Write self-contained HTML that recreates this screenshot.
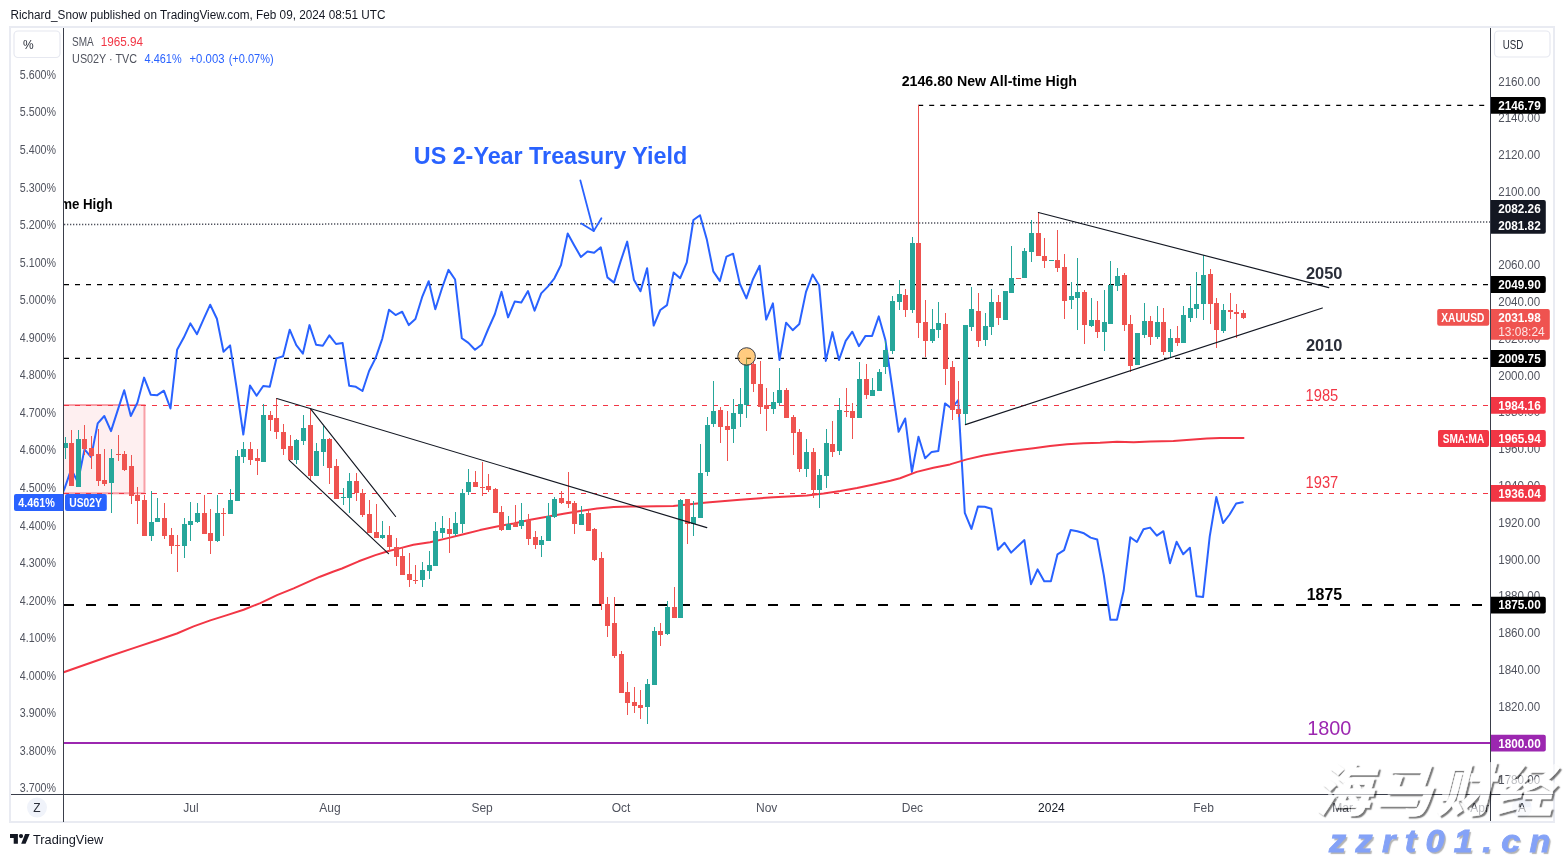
<!DOCTYPE html>
<html lang="en"><head><meta charset="utf-8"><title>XAUUSD chart</title>
<style>
html,body{margin:0;padding:0;background:#fff;}
body{width:1564px;height:857px;position:relative;overflow:hidden;font-family:"Liberation Sans",sans-serif;}
svg{position:absolute;left:0;top:0;}
svg text{font-family:"Liberation Sans",sans-serif;}
.wm1{position:absolute;left:1314px;top:753px;width:260px;white-space:nowrap;font-family:"Liberation Sans","Noto Sans CJK SC",sans-serif;font-weight:900;font-style:italic;font-size:57px;line-height:76px;letter-spacing:3.5px;color:#fff;-webkit-text-stroke:0.5px #fff;text-shadow:2px 2px 1.2px rgba(0,0,0,.85);opacity:.62;}
.wm2{position:absolute;left:1329px;top:823px;white-space:nowrap;font-family:"Liberation Sans",sans-serif;font-weight:bold;font-style:italic;font-size:30.5px;line-height:36px;letter-spacing:8.4px;color:#84a2f7;-webkit-text-stroke:0.8px #84a2f7;text-shadow:1.5px 1.5px 1px rgba(0,0,0,.3);transform:scaleX(1.12);transform-origin:left center;}
</style></head><body>
<svg width="1564" height="857" viewBox="0 0 1564 857">
<defs><clipPath id="plot"><rect x="64" y="28" width="1426" height="766"/></clipPath></defs>
<rect x="0" y="0" width="1564" height="857" fill="#fff"/>

<rect x="10" y="27" width="1544" height="795" fill="#fff" stroke="#e9ebf2" stroke-width="2"/>
<g clip-path="url(#plot)">
<rect x="60" y="405" width="84.5" height="88.3" fill="rgba(242,54,69,0.08)" stroke="rgba(242,54,69,0.45)" stroke-width="2"/>
<line x1="64" y1="224.6" x2="1490" y2="222" stroke="#50535e" stroke-width="1.5" stroke-dasharray="1.3 1.7"/>
<line x1="918.2" y1="105.4" x2="1490" y2="105.4" stroke="#000" stroke-width="1.25" stroke-dasharray="5 6" />
<line x1="64" y1="284.5" x2="1490" y2="284.5" stroke="#000" stroke-width="1.25" stroke-dasharray="5 6" />
<line x1="64" y1="358.4" x2="1490" y2="358.4" stroke="#000" stroke-width="1.25" stroke-dasharray="5 6" />
<line x1="64" y1="405.5" x2="1490" y2="405.5" stroke="#f23645" stroke-width="1" stroke-dasharray="5 6" />
<line x1="64" y1="493.5" x2="1490" y2="493.5" stroke="#f23645" stroke-width="1" stroke-dasharray="5 6" />
<line x1="64" y1="605" x2="1490" y2="605" stroke="#000" stroke-width="2.2" stroke-dasharray="10 12" />
<line x1="64" y1="743" x2="1490" y2="743" stroke="#9c27b0" stroke-width="2.2" />
<polyline points="58.0,505.0 64.6,488.3 71.2,469.3 77.9,482.2 84.5,449.4 91.1,457.1 97.7,423.4 104.3,416.0 111.0,431.1 117.6,410.6 124.2,390.2 130.8,416.0 137.4,402.7 144.1,377.6 150.7,394.7 157.3,395.2 163.9,390.7 170.5,408.5 177.1,349.8 183.8,337.6 190.4,323.4 197.0,334.2 203.6,319.2 210.2,304.7 216.9,318.7 223.5,351.8 230.1,345.4 236.7,388.5 243.3,434.6 250.0,385.5 256.6,395.7 263.2,386.0 269.8,386.8 276.4,358.4 283.1,356.3 289.7,329.7 296.3,345.1 302.9,353.6 309.5,325.1 316.1,344.8 322.8,345.7 329.4,335.3 336.0,344.0 342.6,343.0 349.2,385.8 355.9,386.8 362.5,391.0 369.1,371.0 375.7,357.9 382.3,338.6 389.0,309.7 395.6,315.1 402.2,311.7 408.8,325.1 415.4,319.0 422.1,297.2 428.7,281.2 435.3,309.2 441.9,288.5 448.5,269.9 455.1,279.5 461.8,338.2 468.4,342.9 475.0,349.8 481.6,344.8 488.2,329.0 494.9,314.0 501.5,291.8 508.1,317.4 514.7,301.6 521.3,302.6 528.0,291.1 534.6,310.7 541.2,293.4 547.8,286.6 554.4,278.3 561.0,265.0 567.7,233.4 574.3,245.4 580.9,257.0 587.5,251.4 594.1,252.8 600.8,247.3 607.4,277.4 614.0,282.6 620.6,261.4 627.2,241.6 633.9,279.7 640.5,291.3 647.1,268.2 653.7,325.6 660.3,310.0 667.0,305.1 673.6,272.6 680.2,278.2 686.8,262.4 693.4,220.0 700.0,215.2 706.7,238.9 713.3,271.4 719.9,281.1 726.5,256.6 733.1,253.7 739.8,283.6 746.4,298.4 753.0,279.2 759.6,265.7 766.2,319.6 772.9,303.4 779.5,360.0 786.1,322.7 792.7,330.2 799.3,324.0 806.0,291.9 812.6,274.5 819.2,285.5 825.8,360.9 832.4,332.1 839.0,360.0 845.7,340.8 852.3,331.7 858.9,346.2 865.5,335.9 872.1,335.9 878.8,316.4 885.4,340.1 892.0,386.0 898.6,431.8 905.2,418.5 911.9,471.9 918.5,436.8 925.1,458.2 931.7,451.9 938.3,451.0 945.0,403.4 951.6,408.5 958.2,400.0 964.8,512.9 971.4,528.9 978.0,506.4 984.7,506.8 991.3,508.7 997.9,549.7 1004.5,542.8 1011.1,552.6 1017.8,546.2 1024.4,540.1 1031.0,584.2 1037.6,569.4 1044.2,581.3 1050.9,581.3 1057.5,554.3 1064.1,550.1 1070.7,529.9 1077.3,531.2 1084.0,533.3 1090.6,537.6 1097.2,539.5 1103.8,575.1 1110.4,619.8 1117.0,619.8 1123.7,590.5 1130.3,537.2 1136.9,542.0 1143.5,529.3 1150.1,527.6 1156.8,535.7 1163.4,531.2 1170.0,563.2 1176.6,541.8 1183.2,554.3 1189.9,547.8 1196.5,596.3 1203.1,596.9 1209.7,536.6 1216.3,497.1 1223.0,523.1 1229.6,514.5 1236.2,503.5 1242.8,502.3" fill="none" stroke="#2962ff" stroke-width="2" stroke-linejoin="round" stroke-linecap="round"/>
<polyline points="58.0,674.2 63.7,672.2 85.0,664.7 110.0,656.0 135.0,647.6 160.2,639.3 176.9,633.5 193.6,626.4 210.3,620.4 227.0,615.1 243.6,609.7 260.3,603.1 277.0,595.1 293.7,588.4 310.4,580.9 320.0,576.7 333.6,571.5 342.0,568.5 358.7,561.3 375.4,555.1 388.7,551.0 400.4,548.1 413.4,544.8 430.0,542.3 446.8,538.4 463.5,534.3 480.0,530.1 496.9,526.4 513.6,523.4 530.3,519.7 547.0,516.7 563.6,513.7 580.3,510.9 597.0,508.4 613.7,507.1 630.4,506.4 640.0,506.5 673.4,505.9 690.0,504.2 706.8,502.5 740.0,499.7 773.6,497.2 807.0,495.5 823.6,493.4 840.3,490.9 857.0,488.0 873.7,484.5 890.4,480.8 900.0,478.2 916.7,471.9 933.4,467.7 950.0,464.4 966.8,459.4 983.5,455.5 1000.0,452.7 1016.9,450.2 1033.6,448.2 1050.0,446.0 1067.0,444.3 1083.6,443.2 1100.0,442.8 1117.0,441.8 1133.7,442.2 1150.4,441.5 1173.4,440.9 1190.0,439.8 1206.8,438.4 1220.0,437.9 1243.5,438.1" fill="none" stroke="#f23645" stroke-width="2" stroke-linejoin="round" stroke-linecap="round"/>
<g shape-rendering="crispEdges">
<rect x="65" y="437" width="1" height="22" fill="#26a69a"/>
<rect x="63" y="443" width="5" height="5" fill="#26a69a"/>
<rect x="71" y="430" width="1" height="56" fill="#ef5350"/>
<rect x="69" y="443" width="5" height="43" fill="#ef5350"/>
<rect x="78" y="430" width="1" height="57" fill="#26a69a"/>
<rect x="76" y="439" width="5" height="48" fill="#26a69a"/>
<rect x="84" y="425" width="1" height="30" fill="#ef5350"/>
<rect x="82" y="439" width="5" height="10" fill="#ef5350"/>
<rect x="91" y="436" width="1" height="33" fill="#ef5350"/>
<rect x="89" y="448" width="5" height="8" fill="#ef5350"/>
<rect x="98" y="429" width="1" height="57" fill="#ef5350"/>
<rect x="96" y="454" width="5" height="27" fill="#ef5350"/>
<rect x="104" y="449" width="1" height="37" fill="#ef5350"/>
<rect x="102" y="480" width="5" height="4" fill="#ef5350"/>
<rect x="111" y="449" width="1" height="64" fill="#26a69a"/>
<rect x="109" y="458" width="5" height="25" fill="#26a69a"/>
<rect x="118" y="435" width="1" height="26" fill="#ef5350"/>
<rect x="116" y="454" width="5" height="1" fill="#ef5350"/>
<rect x="124" y="451" width="1" height="20" fill="#ef5350"/>
<rect x="122" y="454" width="5" height="16" fill="#ef5350"/>
<rect x="131" y="455" width="1" height="49" fill="#ef5350"/>
<rect x="129" y="466" width="5" height="30" fill="#ef5350"/>
<rect x="137" y="487" width="1" height="37" fill="#ef5350"/>
<rect x="135" y="495" width="5" height="6" fill="#ef5350"/>
<rect x="144" y="495" width="1" height="41" fill="#ef5350"/>
<rect x="142" y="500" width="5" height="36" fill="#ef5350"/>
<rect x="151" y="491" width="1" height="50" fill="#26a69a"/>
<rect x="149" y="522" width="5" height="14" fill="#26a69a"/>
<rect x="157" y="498" width="1" height="24" fill="#26a69a"/>
<rect x="155" y="518" width="5" height="4" fill="#26a69a"/>
<rect x="164" y="503" width="1" height="36" fill="#ef5350"/>
<rect x="162" y="518" width="5" height="18" fill="#ef5350"/>
<rect x="171" y="528" width="1" height="26" fill="#ef5350"/>
<rect x="169" y="535" width="5" height="11" fill="#ef5350"/>
<rect x="177" y="535" width="1" height="37" fill="#ef5350"/>
<rect x="175" y="545" width="5" height="1" fill="#ef5350"/>
<rect x="184" y="518" width="1" height="40" fill="#26a69a"/>
<rect x="182" y="524" width="5" height="22" fill="#26a69a"/>
<rect x="190" y="502" width="1" height="39" fill="#26a69a"/>
<rect x="188" y="521" width="5" height="4" fill="#26a69a"/>
<rect x="197" y="503" width="1" height="20" fill="#26a69a"/>
<rect x="195" y="513" width="5" height="9" fill="#26a69a"/>
<rect x="204" y="495" width="1" height="39" fill="#ef5350"/>
<rect x="202" y="513" width="5" height="21" fill="#ef5350"/>
<rect x="210" y="509" width="1" height="45" fill="#ef5350"/>
<rect x="208" y="533" width="5" height="8" fill="#ef5350"/>
<rect x="217" y="495" width="1" height="47" fill="#26a69a"/>
<rect x="215" y="513" width="5" height="28" fill="#26a69a"/>
<rect x="223" y="508" width="1" height="28" fill="#ef5350"/>
<rect x="221" y="513" width="5" height="1" fill="#ef5350"/>
<rect x="230" y="489" width="1" height="25" fill="#26a69a"/>
<rect x="228" y="500" width="5" height="14" fill="#26a69a"/>
<rect x="237" y="450" width="1" height="51" fill="#26a69a"/>
<rect x="235" y="456" width="5" height="45" fill="#26a69a"/>
<rect x="243" y="442" width="1" height="21" fill="#26a69a"/>
<rect x="241" y="449" width="5" height="8" fill="#26a69a"/>
<rect x="250" y="442" width="1" height="23" fill="#ef5350"/>
<rect x="248" y="449" width="5" height="11" fill="#ef5350"/>
<rect x="257" y="449" width="1" height="26" fill="#ef5350"/>
<rect x="255" y="458" width="5" height="3" fill="#ef5350"/>
<rect x="263" y="404" width="1" height="58" fill="#26a69a"/>
<rect x="261" y="415" width="5" height="47" fill="#26a69a"/>
<rect x="270" y="411" width="1" height="20" fill="#ef5350"/>
<rect x="268" y="415" width="5" height="5" fill="#ef5350"/>
<rect x="276" y="398" width="1" height="41" fill="#ef5350"/>
<rect x="274" y="418" width="5" height="14" fill="#ef5350"/>
<rect x="283" y="424" width="1" height="31" fill="#ef5350"/>
<rect x="281" y="432" width="5" height="17" fill="#ef5350"/>
<rect x="290" y="435" width="1" height="25" fill="#ef5350"/>
<rect x="288" y="446" width="5" height="14" fill="#ef5350"/>
<rect x="296" y="439" width="1" height="25" fill="#26a69a"/>
<rect x="294" y="440" width="5" height="20" fill="#26a69a"/>
<rect x="303" y="415" width="1" height="30" fill="#26a69a"/>
<rect x="301" y="428" width="5" height="13" fill="#26a69a"/>
<rect x="310" y="409" width="1" height="71" fill="#ef5350"/>
<rect x="308" y="425" width="5" height="51" fill="#ef5350"/>
<rect x="316" y="443" width="1" height="33" fill="#26a69a"/>
<rect x="314" y="451" width="5" height="25" fill="#26a69a"/>
<rect x="323" y="426" width="1" height="40" fill="#26a69a"/>
<rect x="321" y="439" width="5" height="13" fill="#26a69a"/>
<rect x="329" y="438" width="1" height="46" fill="#ef5350"/>
<rect x="327" y="439" width="5" height="29" fill="#ef5350"/>
<rect x="336" y="459" width="1" height="40" fill="#ef5350"/>
<rect x="334" y="466" width="5" height="33" fill="#ef5350"/>
<rect x="343" y="488" width="1" height="17" fill="#26a69a"/>
<rect x="341" y="497" width="5" height="1" fill="#26a69a"/>
<rect x="349" y="473" width="1" height="40" fill="#26a69a"/>
<rect x="347" y="481" width="5" height="17" fill="#26a69a"/>
<rect x="356" y="473" width="1" height="28" fill="#ef5350"/>
<rect x="354" y="481" width="5" height="12" fill="#ef5350"/>
<rect x="362" y="489" width="1" height="28" fill="#ef5350"/>
<rect x="360" y="493" width="5" height="22" fill="#ef5350"/>
<rect x="369" y="500" width="1" height="33" fill="#ef5350"/>
<rect x="367" y="514" width="5" height="19" fill="#ef5350"/>
<rect x="376" y="504" width="1" height="34" fill="#ef5350"/>
<rect x="374" y="532" width="5" height="6" fill="#ef5350"/>
<rect x="382" y="521" width="1" height="18" fill="#26a69a"/>
<rect x="380" y="535" width="5" height="3" fill="#26a69a"/>
<rect x="389" y="526" width="1" height="26" fill="#ef5350"/>
<rect x="387" y="535" width="5" height="12" fill="#ef5350"/>
<rect x="396" y="538" width="1" height="28" fill="#ef5350"/>
<rect x="394" y="547" width="5" height="10" fill="#ef5350"/>
<rect x="402" y="547" width="1" height="28" fill="#ef5350"/>
<rect x="400" y="556" width="5" height="19" fill="#ef5350"/>
<rect x="409" y="553" width="1" height="34" fill="#ef5350"/>
<rect x="407" y="574" width="5" height="6" fill="#ef5350"/>
<rect x="415" y="565" width="1" height="19" fill="#ef5350"/>
<rect x="413" y="580" width="5" height="1" fill="#ef5350"/>
<rect x="422" y="562" width="1" height="25" fill="#26a69a"/>
<rect x="420" y="570" width="5" height="10" fill="#26a69a"/>
<rect x="429" y="551" width="1" height="28" fill="#26a69a"/>
<rect x="427" y="565" width="5" height="6" fill="#26a69a"/>
<rect x="435" y="522" width="1" height="44" fill="#26a69a"/>
<rect x="433" y="531" width="5" height="35" fill="#26a69a"/>
<rect x="442" y="516" width="1" height="22" fill="#26a69a"/>
<rect x="440" y="528" width="5" height="5" fill="#26a69a"/>
<rect x="449" y="518" width="1" height="35" fill="#ef5350"/>
<rect x="447" y="529" width="5" height="5" fill="#ef5350"/>
<rect x="455" y="512" width="1" height="24" fill="#26a69a"/>
<rect x="453" y="523" width="5" height="11" fill="#26a69a"/>
<rect x="462" y="489" width="1" height="44" fill="#26a69a"/>
<rect x="460" y="493" width="5" height="31" fill="#26a69a"/>
<rect x="468" y="469" width="1" height="26" fill="#26a69a"/>
<rect x="466" y="482" width="5" height="10" fill="#26a69a"/>
<rect x="475" y="471" width="1" height="16" fill="#ef5350"/>
<rect x="473" y="482" width="5" height="5" fill="#ef5350"/>
<rect x="482" y="462" width="1" height="34" fill="#ef5350"/>
<rect x="480" y="487" width="5" height="1" fill="#ef5350"/>
<rect x="488" y="474" width="1" height="18" fill="#ef5350"/>
<rect x="486" y="486" width="5" height="4" fill="#ef5350"/>
<rect x="495" y="488" width="1" height="25" fill="#ef5350"/>
<rect x="493" y="489" width="5" height="24" fill="#ef5350"/>
<rect x="501" y="506" width="1" height="25" fill="#ef5350"/>
<rect x="499" y="512" width="5" height="18" fill="#ef5350"/>
<rect x="508" y="516" width="1" height="14" fill="#26a69a"/>
<rect x="506" y="524" width="5" height="6" fill="#26a69a"/>
<rect x="515" y="505" width="1" height="22" fill="#ef5350"/>
<rect x="513" y="523" width="5" height="4" fill="#ef5350"/>
<rect x="521" y="503" width="1" height="26" fill="#26a69a"/>
<rect x="519" y="520" width="5" height="6" fill="#26a69a"/>
<rect x="528" y="514" width="1" height="31" fill="#ef5350"/>
<rect x="526" y="520" width="5" height="19" fill="#ef5350"/>
<rect x="535" y="531" width="1" height="18" fill="#ef5350"/>
<rect x="533" y="537" width="5" height="8" fill="#ef5350"/>
<rect x="541" y="536" width="1" height="21" fill="#26a69a"/>
<rect x="539" y="540" width="5" height="5" fill="#26a69a"/>
<rect x="548" y="503" width="1" height="38" fill="#26a69a"/>
<rect x="546" y="516" width="5" height="25" fill="#26a69a"/>
<rect x="554" y="497" width="1" height="21" fill="#26a69a"/>
<rect x="552" y="499" width="5" height="18" fill="#26a69a"/>
<rect x="561" y="491" width="1" height="13" fill="#ef5350"/>
<rect x="559" y="498" width="5" height="5" fill="#ef5350"/>
<rect x="568" y="472" width="1" height="36" fill="#ef5350"/>
<rect x="566" y="501" width="5" height="3" fill="#ef5350"/>
<rect x="574" y="501" width="1" height="33" fill="#ef5350"/>
<rect x="572" y="503" width="5" height="21" fill="#ef5350"/>
<rect x="581" y="506" width="1" height="19" fill="#26a69a"/>
<rect x="579" y="514" width="5" height="11" fill="#26a69a"/>
<rect x="588" y="510" width="1" height="21" fill="#ef5350"/>
<rect x="586" y="513" width="5" height="18" fill="#ef5350"/>
<rect x="594" y="528" width="1" height="33" fill="#ef5350"/>
<rect x="592" y="529" width="5" height="31" fill="#ef5350"/>
<rect x="601" y="552" width="1" height="58" fill="#ef5350"/>
<rect x="599" y="558" width="5" height="46" fill="#ef5350"/>
<rect x="607" y="597" width="1" height="40" fill="#ef5350"/>
<rect x="605" y="604" width="5" height="22" fill="#ef5350"/>
<rect x="614" y="597" width="1" height="61" fill="#ef5350"/>
<rect x="612" y="623" width="5" height="33" fill="#ef5350"/>
<rect x="621" y="651" width="1" height="42" fill="#ef5350"/>
<rect x="619" y="654" width="5" height="39" fill="#ef5350"/>
<rect x="627" y="682" width="1" height="33" fill="#ef5350"/>
<rect x="625" y="692" width="5" height="11" fill="#ef5350"/>
<rect x="634" y="687" width="1" height="26" fill="#ef5350"/>
<rect x="632" y="702" width="5" height="4" fill="#ef5350"/>
<rect x="640" y="690" width="1" height="29" fill="#ef5350"/>
<rect x="638" y="705" width="5" height="3" fill="#ef5350"/>
<rect x="647" y="679" width="1" height="45" fill="#26a69a"/>
<rect x="645" y="684" width="5" height="23" fill="#26a69a"/>
<rect x="654" y="627" width="1" height="58" fill="#26a69a"/>
<rect x="652" y="631" width="5" height="54" fill="#26a69a"/>
<rect x="660" y="623" width="1" height="23" fill="#ef5350"/>
<rect x="658" y="631" width="5" height="4" fill="#ef5350"/>
<rect x="667" y="601" width="1" height="34" fill="#26a69a"/>
<rect x="665" y="607" width="5" height="27" fill="#26a69a"/>
<rect x="674" y="587" width="1" height="31" fill="#ef5350"/>
<rect x="672" y="607" width="5" height="11" fill="#ef5350"/>
<rect x="680" y="499" width="1" height="119" fill="#26a69a"/>
<rect x="678" y="500" width="5" height="118" fill="#26a69a"/>
<rect x="687" y="499" width="1" height="45" fill="#ef5350"/>
<rect x="685" y="499" width="5" height="25" fill="#ef5350"/>
<rect x="693" y="501" width="1" height="35" fill="#26a69a"/>
<rect x="691" y="517" width="5" height="7" fill="#26a69a"/>
<rect x="700" y="444" width="1" height="74" fill="#26a69a"/>
<rect x="698" y="473" width="5" height="45" fill="#26a69a"/>
<rect x="707" y="417" width="1" height="59" fill="#26a69a"/>
<rect x="705" y="425" width="5" height="47" fill="#26a69a"/>
<rect x="713" y="381" width="1" height="46" fill="#26a69a"/>
<rect x="711" y="411" width="5" height="13" fill="#26a69a"/>
<rect x="720" y="407" width="1" height="36" fill="#ef5350"/>
<rect x="718" y="410" width="5" height="17" fill="#ef5350"/>
<rect x="727" y="411" width="1" height="50" fill="#ef5350"/>
<rect x="725" y="426" width="5" height="4" fill="#ef5350"/>
<rect x="733" y="399" width="1" height="44" fill="#26a69a"/>
<rect x="731" y="413" width="5" height="16" fill="#26a69a"/>
<rect x="740" y="388" width="1" height="39" fill="#26a69a"/>
<rect x="738" y="404" width="5" height="10" fill="#26a69a"/>
<rect x="746" y="358" width="1" height="60" fill="#26a69a"/>
<rect x="744" y="364" width="5" height="41" fill="#26a69a"/>
<rect x="753" y="362" width="1" height="30" fill="#ef5350"/>
<rect x="751" y="364" width="5" height="20" fill="#ef5350"/>
<rect x="760" y="361" width="1" height="53" fill="#ef5350"/>
<rect x="758" y="384" width="5" height="23" fill="#ef5350"/>
<rect x="766" y="388" width="1" height="43" fill="#ef5350"/>
<rect x="764" y="405" width="5" height="4" fill="#ef5350"/>
<rect x="773" y="392" width="1" height="22" fill="#26a69a"/>
<rect x="771" y="402" width="5" height="7" fill="#26a69a"/>
<rect x="779" y="368" width="1" height="37" fill="#26a69a"/>
<rect x="777" y="390" width="5" height="13" fill="#26a69a"/>
<rect x="786" y="388" width="1" height="30" fill="#ef5350"/>
<rect x="784" y="390" width="5" height="28" fill="#ef5350"/>
<rect x="793" y="415" width="1" height="40" fill="#ef5350"/>
<rect x="791" y="417" width="5" height="16" fill="#ef5350"/>
<rect x="799" y="429" width="1" height="43" fill="#ef5350"/>
<rect x="797" y="432" width="5" height="37" fill="#ef5350"/>
<rect x="806" y="439" width="1" height="38" fill="#26a69a"/>
<rect x="804" y="452" width="5" height="17" fill="#26a69a"/>
<rect x="813" y="448" width="1" height="50" fill="#ef5350"/>
<rect x="811" y="452" width="5" height="38" fill="#ef5350"/>
<rect x="819" y="469" width="1" height="39" fill="#26a69a"/>
<rect x="817" y="475" width="5" height="15" fill="#26a69a"/>
<rect x="826" y="429" width="1" height="59" fill="#26a69a"/>
<rect x="824" y="443" width="5" height="33" fill="#26a69a"/>
<rect x="832" y="421" width="1" height="36" fill="#ef5350"/>
<rect x="830" y="444" width="5" height="8" fill="#ef5350"/>
<rect x="839" y="398" width="1" height="57" fill="#26a69a"/>
<rect x="837" y="410" width="5" height="41" fill="#26a69a"/>
<rect x="846" y="388" width="1" height="29" fill="#ef5350"/>
<rect x="844" y="411" width="5" height="1" fill="#ef5350"/>
<rect x="852" y="403" width="1" height="36" fill="#ef5350"/>
<rect x="850" y="411" width="5" height="7" fill="#ef5350"/>
<rect x="859" y="362" width="1" height="56" fill="#26a69a"/>
<rect x="857" y="379" width="5" height="39" fill="#26a69a"/>
<rect x="866" y="364" width="1" height="35" fill="#ef5350"/>
<rect x="864" y="379" width="5" height="16" fill="#ef5350"/>
<rect x="872" y="378" width="1" height="18" fill="#26a69a"/>
<rect x="870" y="390" width="5" height="6" fill="#26a69a"/>
<rect x="879" y="369" width="1" height="22" fill="#26a69a"/>
<rect x="877" y="372" width="5" height="19" fill="#26a69a"/>
<rect x="885" y="341" width="1" height="33" fill="#26a69a"/>
<rect x="883" y="350" width="5" height="17" fill="#26a69a"/>
<rect x="892" y="296" width="1" height="58" fill="#26a69a"/>
<rect x="890" y="301" width="5" height="50" fill="#26a69a"/>
<rect x="899" y="280" width="1" height="30" fill="#26a69a"/>
<rect x="897" y="294" width="5" height="8" fill="#26a69a"/>
<rect x="905" y="289" width="1" height="28" fill="#ef5350"/>
<rect x="903" y="295" width="5" height="15" fill="#ef5350"/>
<rect x="912" y="237" width="1" height="76" fill="#26a69a"/>
<rect x="910" y="243" width="5" height="67" fill="#26a69a"/>
<rect x="918" y="105" width="1" height="233" fill="#ef5350"/>
<rect x="916" y="243" width="5" height="80" fill="#ef5350"/>
<rect x="925" y="300" width="1" height="57" fill="#ef5350"/>
<rect x="923" y="322" width="5" height="19" fill="#ef5350"/>
<rect x="932" y="309" width="1" height="34" fill="#26a69a"/>
<rect x="930" y="329" width="5" height="12" fill="#26a69a"/>
<rect x="938" y="302" width="1" height="36" fill="#26a69a"/>
<rect x="936" y="323" width="5" height="7" fill="#26a69a"/>
<rect x="945" y="313" width="1" height="72" fill="#ef5350"/>
<rect x="943" y="324" width="5" height="45" fill="#ef5350"/>
<rect x="952" y="361" width="1" height="59" fill="#ef5350"/>
<rect x="950" y="367" width="5" height="43" fill="#ef5350"/>
<rect x="958" y="381" width="1" height="36" fill="#ef5350"/>
<rect x="956" y="409" width="5" height="5" fill="#ef5350"/>
<rect x="965" y="325" width="1" height="100" fill="#26a69a"/>
<rect x="963" y="325" width="5" height="89" fill="#26a69a"/>
<rect x="971" y="287" width="1" height="44" fill="#26a69a"/>
<rect x="969" y="309" width="5" height="18" fill="#26a69a"/>
<rect x="978" y="293" width="1" height="54" fill="#ef5350"/>
<rect x="976" y="311" width="5" height="30" fill="#ef5350"/>
<rect x="985" y="313" width="1" height="33" fill="#26a69a"/>
<rect x="983" y="326" width="5" height="14" fill="#26a69a"/>
<rect x="991" y="289" width="1" height="46" fill="#26a69a"/>
<rect x="989" y="302" width="5" height="25" fill="#26a69a"/>
<rect x="998" y="295" width="1" height="30" fill="#ef5350"/>
<rect x="996" y="302" width="5" height="16" fill="#ef5350"/>
<rect x="1005" y="291" width="1" height="29" fill="#26a69a"/>
<rect x="1003" y="291" width="5" height="29" fill="#26a69a"/>
<rect x="1011" y="246" width="1" height="47" fill="#26a69a"/>
<rect x="1009" y="278" width="5" height="15" fill="#26a69a"/>
<rect x="1018" y="278" width="1" height="1" fill="#ef5350"/>
<rect x="1016" y="278" width="5" height="1" fill="#ef5350"/>
<rect x="1024" y="248" width="1" height="30" fill="#26a69a"/>
<rect x="1022" y="251" width="5" height="27" fill="#26a69a"/>
<rect x="1031" y="220" width="1" height="42" fill="#26a69a"/>
<rect x="1029" y="233" width="5" height="19" fill="#26a69a"/>
<rect x="1038" y="212" width="1" height="44" fill="#ef5350"/>
<rect x="1036" y="233" width="5" height="23" fill="#ef5350"/>
<rect x="1044" y="238" width="1" height="30" fill="#ef5350"/>
<rect x="1042" y="256" width="5" height="5" fill="#ef5350"/>
<rect x="1051" y="260" width="1" height="1" fill="#26a69a"/>
<rect x="1049" y="260" width="5" height="1" fill="#26a69a"/>
<rect x="1057" y="230" width="1" height="42" fill="#ef5350"/>
<rect x="1055" y="260" width="5" height="8" fill="#ef5350"/>
<rect x="1064" y="254" width="1" height="65" fill="#ef5350"/>
<rect x="1062" y="267" width="5" height="34" fill="#ef5350"/>
<rect x="1071" y="282" width="1" height="27" fill="#26a69a"/>
<rect x="1069" y="296" width="5" height="4" fill="#26a69a"/>
<rect x="1077" y="258" width="1" height="72" fill="#26a69a"/>
<rect x="1075" y="292" width="5" height="6" fill="#26a69a"/>
<rect x="1084" y="290" width="1" height="54" fill="#ef5350"/>
<rect x="1082" y="292" width="5" height="33" fill="#ef5350"/>
<rect x="1091" y="298" width="1" height="29" fill="#26a69a"/>
<rect x="1089" y="320" width="5" height="6" fill="#26a69a"/>
<rect x="1097" y="301" width="1" height="37" fill="#ef5350"/>
<rect x="1095" y="320" width="5" height="12" fill="#ef5350"/>
<rect x="1104" y="290" width="1" height="61" fill="#26a69a"/>
<rect x="1102" y="322" width="5" height="10" fill="#26a69a"/>
<rect x="1110" y="261" width="1" height="63" fill="#26a69a"/>
<rect x="1108" y="285" width="5" height="39" fill="#26a69a"/>
<rect x="1117" y="268" width="1" height="23" fill="#26a69a"/>
<rect x="1115" y="276" width="5" height="10" fill="#26a69a"/>
<rect x="1124" y="273" width="1" height="58" fill="#ef5350"/>
<rect x="1122" y="275" width="5" height="50" fill="#ef5350"/>
<rect x="1130" y="315" width="1" height="57" fill="#ef5350"/>
<rect x="1128" y="324" width="5" height="42" fill="#ef5350"/>
<rect x="1137" y="333" width="1" height="32" fill="#26a69a"/>
<rect x="1135" y="333" width="5" height="32" fill="#26a69a"/>
<rect x="1144" y="303" width="1" height="35" fill="#26a69a"/>
<rect x="1142" y="321" width="5" height="14" fill="#26a69a"/>
<rect x="1150" y="316" width="1" height="29" fill="#ef5350"/>
<rect x="1148" y="321" width="5" height="16" fill="#ef5350"/>
<rect x="1157" y="306" width="1" height="33" fill="#26a69a"/>
<rect x="1155" y="322" width="5" height="15" fill="#26a69a"/>
<rect x="1163" y="308" width="1" height="47" fill="#ef5350"/>
<rect x="1161" y="322" width="5" height="30" fill="#ef5350"/>
<rect x="1170" y="329" width="1" height="29" fill="#26a69a"/>
<rect x="1168" y="338" width="5" height="14" fill="#26a69a"/>
<rect x="1177" y="326" width="1" height="20" fill="#ef5350"/>
<rect x="1175" y="338" width="5" height="5" fill="#ef5350"/>
<rect x="1183" y="306" width="1" height="37" fill="#26a69a"/>
<rect x="1181" y="315" width="5" height="28" fill="#26a69a"/>
<rect x="1190" y="286" width="1" height="36" fill="#26a69a"/>
<rect x="1188" y="308" width="5" height="10" fill="#26a69a"/>
<rect x="1196" y="272" width="1" height="46" fill="#26a69a"/>
<rect x="1194" y="304" width="5" height="5" fill="#26a69a"/>
<rect x="1203" y="255" width="1" height="65" fill="#26a69a"/>
<rect x="1201" y="275" width="5" height="29" fill="#26a69a"/>
<rect x="1210" y="269" width="1" height="55" fill="#ef5350"/>
<rect x="1208" y="274" width="5" height="30" fill="#ef5350"/>
<rect x="1216" y="298" width="1" height="50" fill="#ef5350"/>
<rect x="1214" y="303" width="5" height="27" fill="#ef5350"/>
<rect x="1223" y="304" width="1" height="29" fill="#26a69a"/>
<rect x="1221" y="310" width="5" height="21" fill="#26a69a"/>
<rect x="1230" y="293" width="1" height="26" fill="#ef5350"/>
<rect x="1228" y="310" width="5" height="2" fill="#ef5350"/>
<rect x="1236" y="304" width="1" height="34" fill="#ef5350"/>
<rect x="1234" y="312" width="5" height="2" fill="#ef5350"/>
<rect x="1243" y="310" width="1" height="9" fill="#ef5350"/>
<rect x="1241" y="313" width="5" height="5" fill="#ef5350"/>
</g>
<line x1="276.8" y1="398.5" x2="706.8" y2="527.6" stroke="#131722" stroke-width="1.15" stroke-linecap="round"/>
<line x1="310.6" y1="408.8" x2="395.6" y2="516.5" stroke="#131722" stroke-width="1.15" stroke-linecap="round"/>
<line x1="289.3" y1="460.3" x2="388.5" y2="553.7" stroke="#131722" stroke-width="1.15" stroke-linecap="round"/>
<line x1="1038.4" y1="212.5" x2="1328.8" y2="287.6" stroke="#131722" stroke-width="1.15" stroke-linecap="round"/>
<line x1="965.4" y1="424.6" x2="1322.4" y2="308" stroke="#131722" stroke-width="1.15" stroke-linecap="round"/>
<circle cx="746.6" cy="356.5" r="8.8" fill="rgba(255,152,0,0.5)" stroke="#3a3e49" stroke-width="1"/>
<g stroke="#2962ff" stroke-width="1.8" fill="none" stroke-linecap="round" stroke-linejoin="round"><line x1="580.3" y1="180.3" x2="593.7" y2="231"/><polyline points="581.3,223.4 593.7,231.1 601.4,218.2"/></g>
<text x="413.8" y="164.1" font-size="24" fill="#2962ff" font-weight="bold" text-anchor="start" textLength="273.4" lengthAdjust="spacingAndGlyphs" >US 2-Year Treasury Yield</text>
<text x="901.7" y="85.8" font-size="14" fill="#000" font-weight="bold" text-anchor="start" textLength="175.3" lengthAdjust="spacingAndGlyphs" >2146.80 New All-time High</text>
<text x="-53" y="208.8" font-size="14" fill="#000" font-weight="bold" text-anchor="start" textLength="165.5" lengthAdjust="spacingAndGlyphs" >2081.82 Prev All-time High</text>
<text x="1305.9" y="278.9" font-size="16" fill="#2a2e39" font-weight="bold" text-anchor="start" textLength="36.5" lengthAdjust="spacingAndGlyphs" >2050</text>
<text x="1305.9" y="350.5" font-size="16" fill="#2a2e39" font-weight="bold" text-anchor="start" textLength="36.5" lengthAdjust="spacingAndGlyphs" >2010</text>
<text x="1305.6" y="400.5" font-size="16" fill="#f23645" font-weight="normal" text-anchor="start" textLength="32.7" lengthAdjust="spacingAndGlyphs" >1985</text>
<text x="1305.6" y="487.8" font-size="16" fill="#f23645" font-weight="normal" text-anchor="start" textLength="32.7" lengthAdjust="spacingAndGlyphs" >1937</text>
<text x="1306.7" y="600" font-size="16" fill="#000" font-weight="bold" text-anchor="start" textLength="35.4" lengthAdjust="spacingAndGlyphs" >1875</text>
<text x="1307.2" y="734.9" font-size="20" fill="#9c27b0" font-weight="normal" text-anchor="start" textLength="44.2" lengthAdjust="spacingAndGlyphs" >1800</text>
</g>
<g shape-rendering="crispEdges">
<rect x="63" y="28" width="1" height="793.5" fill="#3a3e4a"/>
<rect x="1490" y="28" width="1" height="793" fill="#3a3e4a"/>
<rect x="11" y="794" width="1542" height="1" fill="#3a3e4a"/>
</g>
<text x="56" y="78.9" font-size="12" fill="#50535e" font-weight="normal" text-anchor="end" textLength="36.2" lengthAdjust="spacingAndGlyphs" >5.600%</text>
<text x="56" y="116.4" font-size="12" fill="#50535e" font-weight="normal" text-anchor="end" textLength="36.2" lengthAdjust="spacingAndGlyphs" >5.500%</text>
<text x="56" y="154.0" font-size="12" fill="#50535e" font-weight="normal" text-anchor="end" textLength="36.2" lengthAdjust="spacingAndGlyphs" >5.400%</text>
<text x="56" y="191.5" font-size="12" fill="#50535e" font-weight="normal" text-anchor="end" textLength="36.2" lengthAdjust="spacingAndGlyphs" >5.300%</text>
<text x="56" y="229.1" font-size="12" fill="#50535e" font-weight="normal" text-anchor="end" textLength="36.2" lengthAdjust="spacingAndGlyphs" >5.200%</text>
<text x="56" y="266.7" font-size="12" fill="#50535e" font-weight="normal" text-anchor="end" textLength="36.2" lengthAdjust="spacingAndGlyphs" >5.100%</text>
<text x="56" y="304.2" font-size="12" fill="#50535e" font-weight="normal" text-anchor="end" textLength="36.2" lengthAdjust="spacingAndGlyphs" >5.000%</text>
<text x="56" y="341.8" font-size="12" fill="#50535e" font-weight="normal" text-anchor="end" textLength="36.2" lengthAdjust="spacingAndGlyphs" >4.900%</text>
<text x="56" y="379.3" font-size="12" fill="#50535e" font-weight="normal" text-anchor="end" textLength="36.2" lengthAdjust="spacingAndGlyphs" >4.800%</text>
<text x="56" y="416.9" font-size="12" fill="#50535e" font-weight="normal" text-anchor="end" textLength="36.2" lengthAdjust="spacingAndGlyphs" >4.700%</text>
<text x="56" y="454.4" font-size="12" fill="#50535e" font-weight="normal" text-anchor="end" textLength="36.2" lengthAdjust="spacingAndGlyphs" >4.600%</text>
<text x="56" y="491.9" font-size="12" fill="#50535e" font-weight="normal" text-anchor="end" textLength="36.2" lengthAdjust="spacingAndGlyphs" >4.500%</text>
<text x="56" y="529.5" font-size="12" fill="#50535e" font-weight="normal" text-anchor="end" textLength="36.2" lengthAdjust="spacingAndGlyphs" >4.400%</text>
<text x="56" y="567.0" font-size="12" fill="#50535e" font-weight="normal" text-anchor="end" textLength="36.2" lengthAdjust="spacingAndGlyphs" >4.300%</text>
<text x="56" y="604.6" font-size="12" fill="#50535e" font-weight="normal" text-anchor="end" textLength="36.2" lengthAdjust="spacingAndGlyphs" >4.200%</text>
<text x="56" y="642.1" font-size="12" fill="#50535e" font-weight="normal" text-anchor="end" textLength="36.2" lengthAdjust="spacingAndGlyphs" >4.100%</text>
<text x="56" y="679.7" font-size="12" fill="#50535e" font-weight="normal" text-anchor="end" textLength="36.2" lengthAdjust="spacingAndGlyphs" >4.000%</text>
<text x="56" y="717.2" font-size="12" fill="#50535e" font-weight="normal" text-anchor="end" textLength="36.2" lengthAdjust="spacingAndGlyphs" >3.900%</text>
<text x="56" y="754.8" font-size="12" fill="#50535e" font-weight="normal" text-anchor="end" textLength="36.2" lengthAdjust="spacingAndGlyphs" >3.800%</text>
<text x="56" y="792.3" font-size="12" fill="#50535e" font-weight="normal" text-anchor="end" textLength="36.2" lengthAdjust="spacingAndGlyphs" >3.700%</text>
<text x="1498.2" y="85.5" font-size="12" fill="#50535e" font-weight="normal" text-anchor="start" textLength="42" lengthAdjust="spacingAndGlyphs" >2160.00</text>
<text x="1498.2" y="122.3" font-size="12" fill="#50535e" font-weight="normal" text-anchor="start" textLength="42" lengthAdjust="spacingAndGlyphs" >2140.00</text>
<text x="1498.2" y="159.0" font-size="12" fill="#50535e" font-weight="normal" text-anchor="start" textLength="42" lengthAdjust="spacingAndGlyphs" >2120.00</text>
<text x="1498.2" y="195.8" font-size="12" fill="#50535e" font-weight="normal" text-anchor="start" textLength="42" lengthAdjust="spacingAndGlyphs" >2100.00</text>
<text x="1498.2" y="232.6" font-size="12" fill="#50535e" font-weight="normal" text-anchor="start" textLength="42" lengthAdjust="spacingAndGlyphs" >2080.00</text>
<text x="1498.2" y="269.4" font-size="12" fill="#50535e" font-weight="normal" text-anchor="start" textLength="42" lengthAdjust="spacingAndGlyphs" >2060.00</text>
<text x="1498.2" y="306.1" font-size="12" fill="#50535e" font-weight="normal" text-anchor="start" textLength="42" lengthAdjust="spacingAndGlyphs" >2040.00</text>
<text x="1498.2" y="342.9" font-size="12" fill="#50535e" font-weight="normal" text-anchor="start" textLength="42" lengthAdjust="spacingAndGlyphs" >2020.00</text>
<text x="1498.2" y="379.7" font-size="12" fill="#50535e" font-weight="normal" text-anchor="start" textLength="42" lengthAdjust="spacingAndGlyphs" >2000.00</text>
<text x="1498.2" y="416.4" font-size="12" fill="#50535e" font-weight="normal" text-anchor="start" textLength="42" lengthAdjust="spacingAndGlyphs" >1980.00</text>
<text x="1498.2" y="453.2" font-size="12" fill="#50535e" font-weight="normal" text-anchor="start" textLength="42" lengthAdjust="spacingAndGlyphs" >1960.00</text>
<text x="1498.2" y="490.0" font-size="12" fill="#50535e" font-weight="normal" text-anchor="start" textLength="42" lengthAdjust="spacingAndGlyphs" >1940.00</text>
<text x="1498.2" y="526.7" font-size="12" fill="#50535e" font-weight="normal" text-anchor="start" textLength="42" lengthAdjust="spacingAndGlyphs" >1920.00</text>
<text x="1498.2" y="563.5" font-size="12" fill="#50535e" font-weight="normal" text-anchor="start" textLength="42" lengthAdjust="spacingAndGlyphs" >1900.00</text>
<text x="1498.2" y="600.3" font-size="12" fill="#50535e" font-weight="normal" text-anchor="start" textLength="42" lengthAdjust="spacingAndGlyphs" >1880.00</text>
<text x="1498.2" y="637.1" font-size="12" fill="#50535e" font-weight="normal" text-anchor="start" textLength="42" lengthAdjust="spacingAndGlyphs" >1860.00</text>
<text x="1498.2" y="673.8" font-size="12" fill="#50535e" font-weight="normal" text-anchor="start" textLength="42" lengthAdjust="spacingAndGlyphs" >1840.00</text>
<text x="1498.2" y="710.6" font-size="12" fill="#50535e" font-weight="normal" text-anchor="start" textLength="42" lengthAdjust="spacingAndGlyphs" >1820.00</text>
<text x="1498.2" y="747.4" font-size="12" fill="#50535e" font-weight="normal" text-anchor="start" textLength="42" lengthAdjust="spacingAndGlyphs" >1800.00</text>
<text x="1498.2" y="784.1" font-size="12" fill="#50535e" font-weight="normal" text-anchor="start" textLength="42" lengthAdjust="spacingAndGlyphs" >1780.00</text>
<rect x="14" y="31" width="46" height="26.5" rx="4" fill="#fff" stroke="#e6e8f0" stroke-width="1.2"/>
<text x="23" y="49" font-size="12" fill="#2a2e39" font-weight="normal" text-anchor="start" >%</text>
<rect x="1494.5" y="31" width="55.5" height="26" rx="4" fill="#fff" stroke="#e6e8f0" stroke-width="1.2"/>
<text x="1502.8" y="49" font-size="12" fill="#2a2e39" font-weight="normal" text-anchor="start" textLength="20.6" lengthAdjust="spacingAndGlyphs" >USD</text>
<path d="M1491,96.89999999999999 h52.8 a2,2 0 0 1 2,2 v12.8 a2,2 0 0 1 -2,2 h-52.8 z" fill="#000"/>
<text x="1498.2" y="109.6" font-size="12" fill="#fff" font-weight="bold" text-anchor="start" textLength="42.5" lengthAdjust="spacingAndGlyphs" >2146.79</text>
<path d="M1491,200 h52.8 a2,2 0 0 1 2,2 v29.8 a2,2 0 0 1 -2,2 h-52.8 z" fill="#131722"/>
<text x="1498.2" y="213" font-size="12" fill="#fff" font-weight="bold" text-anchor="start" textLength="42.5" lengthAdjust="spacingAndGlyphs" >2082.26</text>
<text x="1498.2" y="229.8" font-size="12" fill="#fff" font-weight="bold" text-anchor="start" textLength="42.5" lengthAdjust="spacingAndGlyphs" >2081.82</text>
<path d="M1491,276.1 h52.8 a2,2 0 0 1 2,2 v12.8 a2,2 0 0 1 -2,2 h-52.8 z" fill="#000"/>
<text x="1498.2" y="288.8" font-size="12" fill="#fff" font-weight="bold" text-anchor="start" textLength="42.5" lengthAdjust="spacingAndGlyphs" >2049.90</text>
<path d="M1491,309 h56.8 a2,2 0 0 1 2,2 v26.7 a2,2 0 0 1 -2,2 h-56.8 z" fill="#ef5350"/>
<text x="1498.2" y="322" font-size="12" fill="#fff" font-weight="bold" text-anchor="start" textLength="42.5" lengthAdjust="spacingAndGlyphs" >2031.98</text>
<text x="1498.2" y="336" font-size="12" fill="rgba(255,255,255,.85)" font-weight="normal" text-anchor="start" textLength="46.5" lengthAdjust="spacingAndGlyphs" >13:08:24</text>
<rect x="1437.2" y="309" width="52" height="16.7" rx="2" fill="#ef5350"/>
<text x="1441.3" y="321.6" font-size="12" fill="#fff" font-weight="bold" text-anchor="start" textLength="43" lengthAdjust="spacingAndGlyphs" >XAUUSD</text>
<path d="M1491,350.1 h52.8 a2,2 0 0 1 2,2 v12.8 a2,2 0 0 1 -2,2 h-52.8 z" fill="#000"/>
<text x="1498.2" y="362.8" font-size="12" fill="#fff" font-weight="bold" text-anchor="start" textLength="42.5" lengthAdjust="spacingAndGlyphs" >2009.75</text>
<path d="M1491,397.0 h52.8 a2,2 0 0 1 2,2 v12.8 a2,2 0 0 1 -2,2 h-52.8 z" fill="#f23645"/>
<text x="1498.2" y="409.7" font-size="12" fill="#fff" font-weight="bold" text-anchor="start" textLength="42.5" lengthAdjust="spacingAndGlyphs" >1984.16</text>
<path d="M1491,430.1 h52.8 a2,2 0 0 1 2,2 v12.8 a2,2 0 0 1 -2,2 h-52.8 z" fill="#f23645"/>
<text x="1498.2" y="442.8" font-size="12" fill="#fff" font-weight="bold" text-anchor="start" textLength="42.5" lengthAdjust="spacingAndGlyphs" >1965.94</text>
<rect x="1438" y="430.1" width="51" height="16.8" rx="2" fill="#f23645"/>
<text x="1442.7" y="442.8" font-size="12" fill="#fff" font-weight="bold" text-anchor="start" textLength="41.5" lengthAdjust="spacingAndGlyphs" >SMA:MA</text>
<path d="M1491,485.0 h52.8 a2,2 0 0 1 2,2 v12.8 a2,2 0 0 1 -2,2 h-52.8 z" fill="#f23645"/>
<text x="1498.2" y="497.7" font-size="12" fill="#fff" font-weight="bold" text-anchor="start" textLength="42.5" lengthAdjust="spacingAndGlyphs" >1936.04</text>
<path d="M1491,596.7 h52.8 a2,2 0 0 1 2,2 v12.8 a2,2 0 0 1 -2,2 h-52.8 z" fill="#000"/>
<text x="1498.2" y="609.4" font-size="12" fill="#fff" font-weight="bold" text-anchor="start" textLength="42.5" lengthAdjust="spacingAndGlyphs" >1875.00</text>
<path d="M1491,734.8000000000001 h52.8 a2,2 0 0 1 2,2 v12.8 a2,2 0 0 1 -2,2 h-52.8 z" fill="#9c27b0"/>
<text x="1498.2" y="747.5" font-size="12" fill="#fff" font-weight="bold" text-anchor="start" textLength="42.5" lengthAdjust="spacingAndGlyphs" >1800.00</text>
<path d="M63.5,494.1 h-47.5 a2,2 0 0 0 -2,2 v12.8 a2,2 0 0 0 2,2 h47.5 z" fill="#2962ff"/>
<text x="18.3" y="506.8" font-size="12" fill="#fff" font-weight="bold" text-anchor="start" textLength="36.6" lengthAdjust="spacingAndGlyphs" >4.461%</text>
<rect x="65" y="494.1" width="41.8" height="16.8" rx="2" fill="#2962ff"/>
<text x="69.2" y="506.8" font-size="12" fill="#fff" font-weight="bold" text-anchor="start" textLength="32.8" lengthAdjust="spacingAndGlyphs" >US02Y</text>
<text x="72.1" y="45.6" font-size="12" fill="#50535e" font-weight="normal" text-anchor="start" textLength="21.7" lengthAdjust="spacingAndGlyphs" >SMA</text>
<text x="100.7" y="45.6" font-size="12" fill="#f23645" font-weight="normal" text-anchor="start" textLength="42.3" lengthAdjust="spacingAndGlyphs" >1965.94</text>
<text x="72.1" y="63.2" font-size="12" fill="#50535e" font-weight="normal" text-anchor="start" textLength="65" lengthAdjust="spacingAndGlyphs" >US02Y · TVC</text>
<text x="144.6" y="63.2" font-size="12" fill="#2962ff" font-weight="normal" text-anchor="start" textLength="37" lengthAdjust="spacingAndGlyphs" >4.461%</text>
<text x="189.5" y="63.2" font-size="12" fill="#2962ff" font-weight="normal" text-anchor="start" textLength="35" lengthAdjust="spacingAndGlyphs" >+0.003</text>
<text x="228.7" y="63.2" font-size="12" fill="#2962ff" font-weight="normal" text-anchor="start" textLength="45" lengthAdjust="spacingAndGlyphs" >(+0.07%)</text>
<text x="10.5" y="18.7" font-size="12" fill="#131722" font-weight="normal" text-anchor="start" textLength="375" lengthAdjust="spacingAndGlyphs" >Richard_Snow published on TradingView.com, Feb 09, 2024 08:51 UTC</text>
<text x="190.9" y="812.3" font-size="12" fill="#50535e" font-weight="normal" text-anchor="middle" >Jul</text>
<text x="329.9" y="812.3" font-size="12" fill="#50535e" font-weight="normal" text-anchor="middle" >Aug</text>
<text x="482.1" y="812.3" font-size="12" fill="#50535e" font-weight="normal" text-anchor="middle" >Sep</text>
<text x="621.1" y="812.3" font-size="12" fill="#50535e" font-weight="normal" text-anchor="middle" >Oct</text>
<text x="766.7" y="812.3" font-size="12" fill="#50535e" font-weight="normal" text-anchor="middle" >Nov</text>
<text x="912.4" y="812.3" font-size="12" fill="#50535e" font-weight="normal" text-anchor="middle" >Dec</text>
<text x="1051.4" y="812.3" font-size="12" fill="#131722" font-weight="normal" text-anchor="middle" >2024</text>
<text x="1203.6" y="812.3" font-size="12" fill="#50535e" font-weight="normal" text-anchor="middle" >Feb</text>
<text x="1342.6" y="812.3" font-size="12" fill="#50535e" font-weight="normal" text-anchor="middle" >Mar</text>
<text x="1489" y="812.3" font-size="12" fill="#50535e" font-weight="normal" text-anchor="end" >Apr</text>
<circle cx="37" cy="807.6" r="10" fill="#f0f3fa"/>
<text x="37" y="811.8" font-size="12" fill="#2a2e39" font-weight="normal" text-anchor="middle" >Z</text>
<circle cx="1522" cy="807.6" r="10" fill="#f0f3fa"/>
<text x="1522" y="811.8" font-size="12" fill="#2a2e39" font-weight="normal" text-anchor="middle" >A</text>
<g fill="#131722"><path d="M10,834 h7.9 v9.8 h-4.2 v-5.9 h-3.7 z"/><circle cx="21" cy="836.1" r="2.1"/><path d="M25.1,834 h4.6 l-4.1,9.8 h-4.4 z"/></g>
<text x="33" y="843.8" font-size="13.5" fill="#131722" font-weight="normal" text-anchor="start" textLength="70.3" lengthAdjust="spacingAndGlyphs" >TradingView</text>
</svg>
<div class="wm1">海马财经</div>
<div class="wm2">zzrt01.cn</div>
</body></html>
